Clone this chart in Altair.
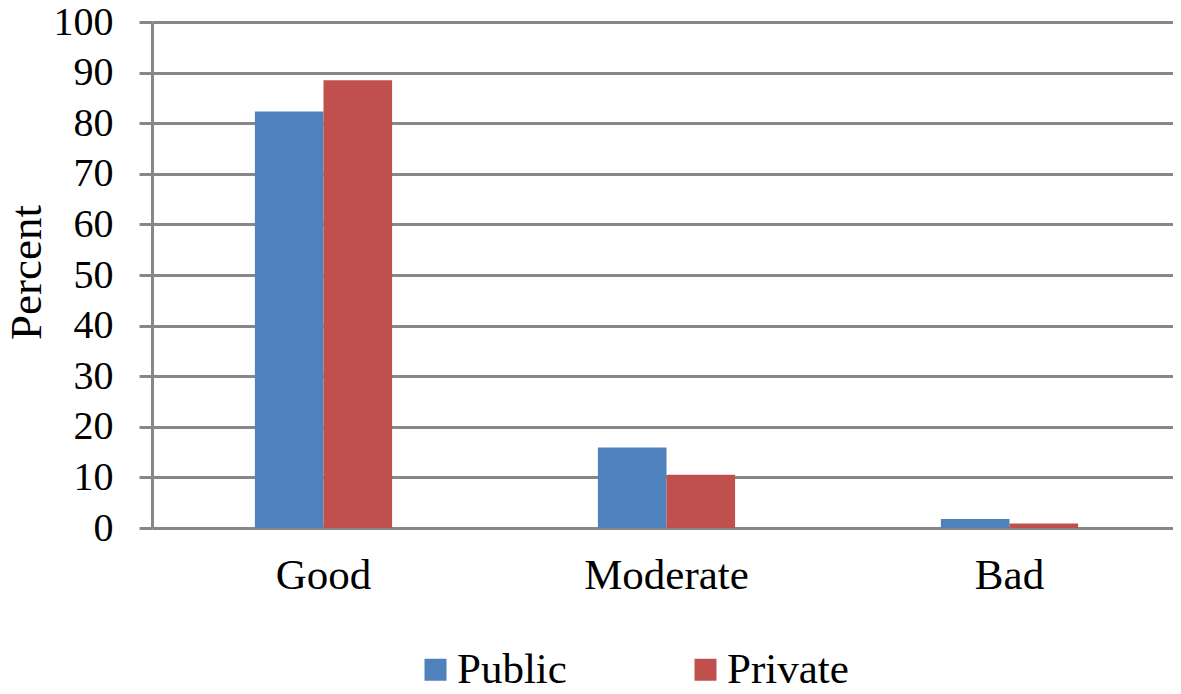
import altair as alt
import pandas as pd

categories = ["Good", "Moderate", "Bad"]
series = ["Public", "Private"]
public_values = [82.3, 15.9, 1.8]
private_values = [88.5, 10.5, 0.9]
y_ticks = [0, 10, 20, 30, 40, 50, 60, 70, 80, 90, 100]
colors = ["#4F81BD", "#C0504D"]

rows = []
for c, p, q in zip(categories, public_values, private_values):
    rows.append({"Category": c, "Sector": "Public", "Percent": p})
    rows.append({"Category": c, "Sector": "Private", "Percent": q})
df = pd.DataFrame(rows)

FONT = "Liberation Serif"
GRAY = "#878787"

chart = alt.Chart(df).mark_bar().encode(
    x=alt.X("Category:N", sort=categories,
            scale=alt.Scale(paddingInner=0.6, paddingOuter=0.3, range=[0, 1029]),
            axis=alt.Axis(title=None, domain=False, ticks=False, labelAngle=0,
                          labelFont=FONT, labelFontSize=43, labelColor="#000000",
                          labelPadding=26)),
    xOffset=alt.XOffset("Sector:N", sort=series, scale=alt.Scale(paddingInner=0, paddingOuter=0)),
    y=alt.Y("Percent:Q", scale=alt.Scale(domain=[0, 100], nice=False),
            axis=alt.Axis(title="Percent", values=y_ticks, format="d",
                          labelFont=FONT, labelFontSize=40, labelColor="#000000",
                          labelPadding=26, tickSize=13, tickColor=GRAY, tickWidth=3,
                          domainColor=GRAY, domainWidth=3,
                          grid=True, gridColor=GRAY, gridWidth=3,
                          titleFont=FONT, titleFontSize=45, titleFontWeight="normal",
                          titleColor="#000000", titleAngle=270, titleAlign="center",
                          titleBaseline="alphabetic", titleX=-112, titleY=250)),
    color=alt.Color("Sector:N", sort=series,
                    scale=alt.Scale(domain=series, range=colors),
                    legend=alt.Legend(title=None, orient="none", direction="horizontal",
                                      legendX=262, legendY=626, padding=0,
                                      symbolType="square", symbolSize=484,
                                      symbolStrokeWidth=0, symbolOpacity=1,
                                      labelFont=FONT, labelFontSize=43,
                                      labelColor="#000000", labelOffset=0,
                                      columnPadding=117, labelLimit=0)),
).properties(
    width=1021,
    height=506,
    padding={"left": 144, "top": 14, "right": 0, "bottom": 158},
    autosize=alt.AutoSizeParams(type="none"),
).configure_view(stroke=None).configure_axis(gridCap="butt")

chart.save("out.html", embed_options={"renderer": "svg", "actions": False})
